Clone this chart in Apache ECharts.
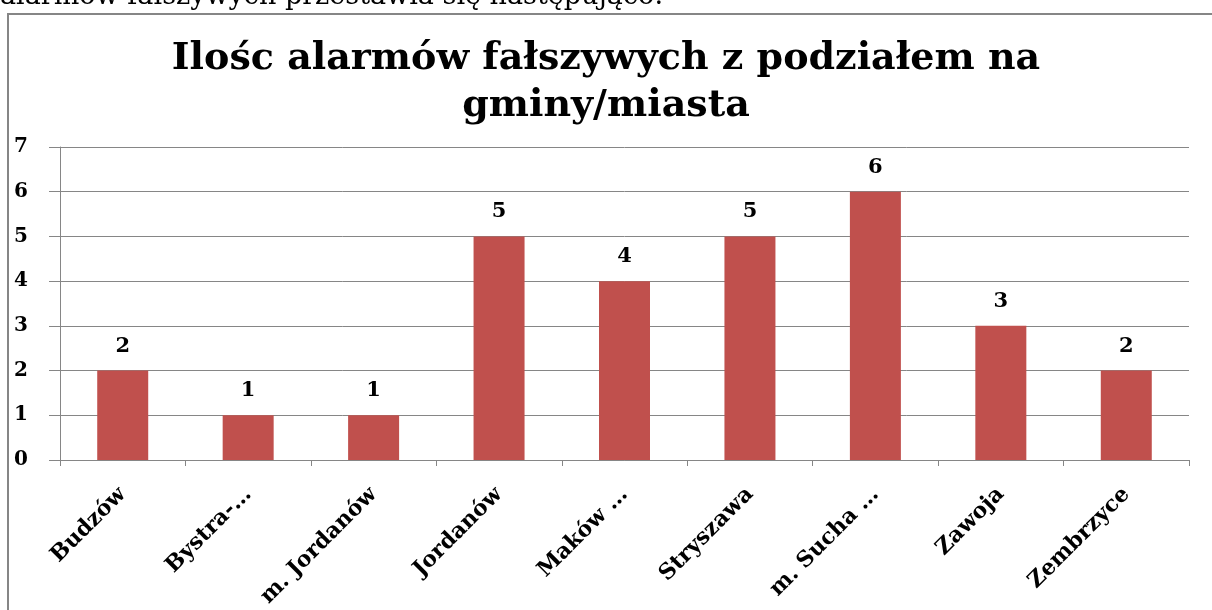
<!DOCTYPE html>
<html>
<head>
<meta charset="utf-8">
<script src="https://cdn.jsdelivr.net/npm/echarts@6/dist/echarts.min.js"></script>
<style>
  html, body { margin: 0; padding: 0; background: #fff; }
  #main { width: 1212px; height: 610px; }
</style>
</head>
<body>
<div id="main"></div>
<script>
var gminy = ['Budzów', 'Bystra-…', 'm. Jordanów', 'Jordanów', 'Maków …', 'Stryszawa', 'm. Sucha …', 'Zawoja', 'Zembrzyce'];
var alarmy = [2, 1, 1, 5, 4, 5, 6, 3, 2];
var yTicks = [0, 1, 2, 3, 4, 5, 6, 7];

var serif = '"DejaVu Serif", "Liberation Serif", serif';

var chart = echarts.init(document.getElementById('main'));

var option = {
  animation: false,
  title: {
    text: 'Ilośc alarmów fałszywych z podziałem na\ngminy/miasta',
    left: 'center',
    top: 31,
    textStyle: {
      fontFamily: serif,
      fontWeight: 'bold',
      fontSize: 38,
      lineHeight: 47,
      color: '#000'
    }
  },
  graphic: [{
    type: 'text',
    left: 0,
    top: -17,
    style: {
      text: 'alarmów fałszywych przestawia się następująco:',
      font: '27px ' + serif,
      fill: '#000'
    }
  }, {
    type: 'rect',
    shape: { x: 8, y: 14, width: 1220, height: 620 },
    style: { fill: 'none', stroke: '#868686', lineWidth: 2 }
  }],
  grid: {
    left: 60,
    right: 23,
    top: 147,
    bottom: 150,
    containLabel: false,
    outerBoundsMode: 'none'
  },
  xAxis: {
    type: 'category',
    data: gminy,
    axisLine: { lineStyle: { color: '#868686', width: 1 } },
    axisTick: { show: true, length: 6, lineStyle: { color: '#868686' } },
    axisLabel: {
      rotate: 45,
      margin: 31,
      color: '#000',
      fontFamily: serif,
      fontWeight: 'bold',
      fontSize: 22
    }
  },
  yAxis: {
    type: 'value',
    min: yTicks[0],
    max: yTicks[yTicks.length - 1],
    interval: 1,
    axisLine: { show: true, lineStyle: { color: '#868686', width: 1 } },
    axisTick: { show: true, length: 11, lineStyle: { color: '#868686' } },
    splitLine: { lineStyle: { color: '#868686', width: 1 } },
    axisLabel: {
      margin: 46,
      align: 'left',
      color: '#000',
      fontFamily: serif,
      fontWeight: 'bold',
      fontSize: 20
    }
  },
  series: [{
    type: 'bar',
    data: alarmy,
    barWidth: 51,
    itemStyle: { color: '#C0504D' },
    label: {
      show: true,
      position: 'top',
      distance: 14,
      color: '#000',
      fontFamily: serif,
      fontWeight: 'bold',
      fontSize: 21
    }
  }]
};

chart.setOption(option);
</script>
</body>
</html>
